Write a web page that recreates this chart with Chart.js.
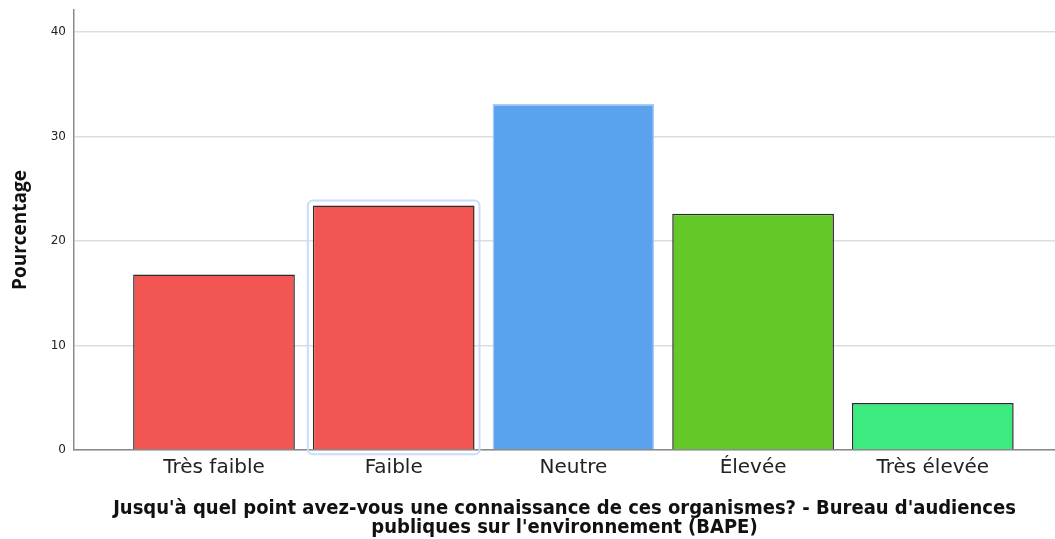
<!DOCTYPE html>
<html>
<head>
<meta charset="utf-8">
<script src="https://cdn.jsdelivr.net/npm/chart.js@4.4.1/dist/chart.umd.min.js"></script>
<style>
  html, body { margin: 0; padding: 0; background: #fff; }
  #wrap { width: 1055px; height: 539px; }
</style>
</head>
<body>
<div id="wrap"><canvas id="canvas"></canvas></div>
<script>
var categories = ['Très faible', 'Faible', 'Neutre', 'Élevée', 'Très élevée'];
var percentages = [16.8, 23.4, 33.1, 22.6, 4.5];
var yTicks = [0, 10, 20, 30, 40];
var barColors = ['#f25552', '#f25552', '#5aa2ec', '#64c828', '#3beb80'];
var barBorders = ['#2b2b2b', '#2b2b2b', '#a9cdf6', '#2b2b2b', '#2b2b2b'];
var selectedIndex = 1;

// light blue selection frame around the highlighted bar
var selectionFrame = {
  id: 'selectionFrame',
  afterDatasetsDraw: function(chart) {
    var bar = chart.getDatasetMeta(0).data[selectedIndex];
    if (!bar) return;
    var p = bar.getProps(['x', 'y', 'base', 'width'], true);
    var ctx = chart.ctx;
    var l = p.x - p.width / 2 - 5, r = p.x + p.width / 2 + 5;
    var t = p.y - 5, b = p.base + 5;
    ctx.save();
    ctx.strokeStyle = '#c9dcfb';
    ctx.lineWidth = 2;
    ctx.beginPath();
    ctx.roundRect(l, t, r - l, b - t, 5);
    ctx.stroke();
    ctx.restore();
  }
};

window.onload = function() {
  var ctx = document.getElementById('canvas').getContext('2d');
  window.myBar = new Chart(ctx, {
    type: 'bar',
    data: {
      datasets: [{
        label: 'Pourcentage',
        data: percentages.map(function(v, i) { return { x: i, y: v }; }),
        backgroundColor: barColors,
        borderColor: barBorders,
        borderWidth: 1.5,
        categoryPercentage: 1,
        barPercentage: 0.9
      }]
    },
    options: {
      responsive: true,
      maintainAspectRatio: false,
      animation: false,
      layout: { padding: { top: 10, right: 0, left: 0, bottom: 0 } },
      plugins: {
        legend: { display: false },
        tooltip: { enabled: false }
      },
      scales: {
        x: {
          type: 'linear',
          offset: false,
          min: -0.779,
          max: 4.68,
          grid: { display: false, drawTicks: false },
          border: { display: true, color: '#8a8a8a', width: 1.5 },
          afterBuildTicks: function(scale) {
            scale.ticks = categories.map(function(c, i) { return { value: i }; });
          },
          afterFit: function(scale) { scale.height = 89; },
          ticks: {
            autoSkip: false,
            maxRotation: 0,
            padding: 6,
            color: '#222',
            font: { family: 'DejaVu Sans', size: 20 },
            callback: function(v) { return categories[v]; }
          },
          title: {
            display: true,
            text: ['Jusqu\'à quel point avez-vous une connaissance de ces organismes? - Bureau d\'audiences',
                   'publiques sur l\'environnement (BAPE)'],
            color: '#111',
            font: { family: 'DejaVu Sans Condensed', size: 20, weight: 'bold', lineHeight: 0.95 },
            padding: { top: 12, bottom: 2 }
          }
        },
        y: {
          min: 0,
          max: 42.1,
          afterBuildTicks: function(scale) {
            scale.ticks = yTicks.map(function(v) { return { value: v }; });
          },
          afterFit: function(scale) {
            scale.width = 74;
            scale.paddingTop = 0;
            scale.paddingBottom = 0;
          },
          grid: { color: '#dddddd', lineWidth: 1.5, drawTicks: false },
          border: { display: true, color: '#8a8a8a', width: 1.5 },
          ticks: {
            padding: 8,
            color: '#222',
            font: { family: 'DejaVu Sans', size: 12 }
          },
          title: {
            display: true,
            text: 'Pourcentage',
            color: '#111',
            font: { family: 'Open Sans', size: 19, weight: 'bold' },
            padding: { top: 9, bottom: 4 }
          }
        }
      }
    },
    plugins: [selectionFrame]
  });
};
</script>
</body>
</html>
